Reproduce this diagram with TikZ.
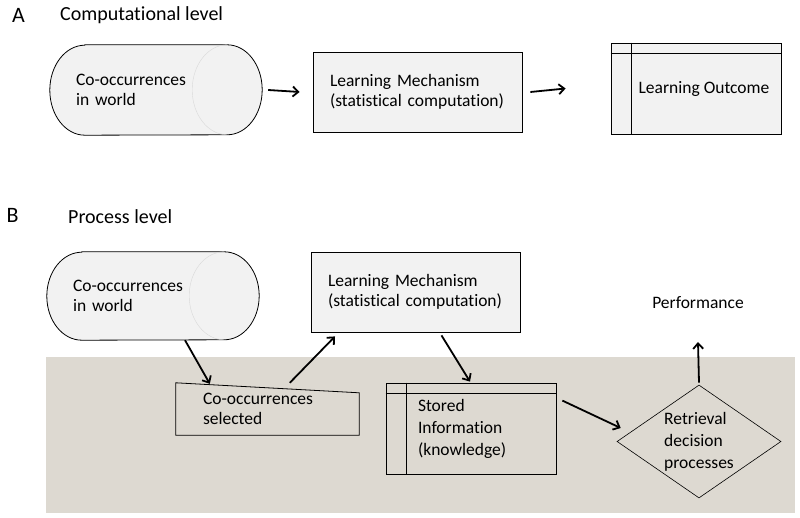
\documentclass[tikz,border=0pt]{standalone}
\usepackage{fontspec}
\setmainfont{Carlito}[Ligatures=NoCommon]
\usetikzlibrary{shapes.geometric,arrows.meta,backgrounds}
\definecolor{boxfill}{RGB}{242,242,242}
\definecolor{procbg}{RGB}{221,217,209}
\begin{document}
\begin{tikzpicture}[x=1pt,y=1pt,
  lbl/.style={font=\fontsize{17.5}{20}\selectfont, inner sep=0pt},
  head/.style={font=\fontsize{20}{24}\selectfont, inner sep=0pt, anchor=west},
  letter/.style={font=\fontsize{22}{26}\selectfont, inner sep=0pt},
  cylbox/.style={lbl, minimum width=212pt, minimum height=90pt, text width=160pt, align=left},
  cyledge/.style={draw=black, line width=0.8pt, fill=boxfill},
  procbox/.style={lbl, draw, line width=0.8pt, fill=boxfill, minimum width=209pt, minimum height=80pt, text width=175pt, align=left},
  storebox/.style={lbl, draw, line width=0.8pt, minimum width=170pt, minimum height=91pt, align=left},
  flow/.style={line width=1.8pt, -{Straight Barb[length=5.5pt,width=10pt]}},
]
\useasboundingbox (0,0) rectangle (800,-518);

% computational level
\node[letter] (A) at (18.5,-15) {A};
\node[head] (comp) at (60,-15) {Computational level};
\node[cylbox] (worldA) at (156,-90) {Co-occurrences\\in world};
\node[procbox] (lmA) at (417.5,-92) {Learning Mechanism\\(statistical computation)};
\node[storebox, fill=boxfill] (outA) at (696,-88.5) {\hspace*{16pt}Learning Outcome};
\draw[line width=0.8pt] ([yshift=-11pt]outA.north west) -- ([yshift=-11pt]outA.north east);
\draw[line width=0.8pt] ([xshift=21pt]outA.north west) -- ([xshift=21pt]outA.south west);

% process level
\node[letter] (B) at (12.5,-215) {B};
\node[head] (proc) at (68,-217) {Process level};
\node[cylbox, minimum height=88pt] (worldB) at (153,-296) {Co-occurrences\\in world};
\node[procbox] (lmB) at (415.5,-292) {Learning Mechanism\\(statistical computation)};
\node[lbl, minimum width=183pt, minimum height=52pt, text width=129pt, align=left] (sel) at (267.5,-409) {Co-occurrences\\selected};
\draw[line width=0.8pt] (sel.north west) -- ([yshift=-10pt]sel.north east) -- (sel.south east) -- (sel.south west) -- cycle;
\node[storebox, text width=106pt, font=\fontsize{17.5}{22}\selectfont] (stored) at (471,-428.5) {Stored\\Information\\(knowledge)};
\draw[line width=0.8pt] ([yshift=-11pt]stored.north west) -- ([yshift=-11pt]stored.north east);
\draw[line width=0.8pt] ([xshift=21pt]stored.north west) -- ([xshift=21pt]stored.south west);
\node[lbl, diamond, draw, line width=0.6pt, aspect=1.45, minimum width=164pt, minimum height=113pt, align=left, font=\fontsize{17.5}{22}\selectfont] (retr) at (699,-441.5) {Retrieval\\decision\\processes};
\node[lbl] (perf) at (698,-303) {Performance};
\coordinate (perfin) at (698,-342);

\begin{scope}[on background layer]
  \fill[procbg] (46,-357) rectangle (795,-513);
  \draw[cyledge] ([xshift=35pt]worldA.north west) -- ([xshift=-35pt]worldA.north east)
    arc[start angle=90, end angle=-90, x radius=35pt, y radius=45pt]
    -- ([xshift=35pt]worldA.south west)
    arc[start angle=270, end angle=90, x radius=35pt, y radius=45pt] -- cycle;
  \draw[black!15] ([xshift=-35pt]worldA.north east) arc[start angle=90, end angle=270, x radius=35pt, y radius=45pt];
  \draw[cyledge] ([xshift=35pt]worldB.north west) -- ([xshift=-35pt]worldB.north east)
    arc[start angle=90, end angle=-90, x radius=35pt, y radius=44pt]
    -- ([xshift=35pt]worldB.south west)
    arc[start angle=270, end angle=90, x radius=35pt, y radius=44pt] -- cycle;
  \draw[black!15] ([xshift=-35pt]worldB.north east) arc[start angle=90, end angle=270, x radius=35pt, y radius=44pt];
\end{scope}

\draw[flow] ([xshift=6pt]worldA.east) -- ([xshift=-13pt]lmA.west);
\draw[flow] ([xshift=8pt]lmA.east) -- ([xshift=-45pt]outA.west);
\draw[flow] ([xshift=32pt]worldB.south) -- ([xshift=34pt,yshift=-1pt]sel.north west);
\draw[flow] ([xshift=114pt]sel.north west) -- ([xshift=-80.5pt,yshift=-4pt]lmB.south);
\draw[flow] ([xshift=26pt,yshift=-3pt]lmB.south) -- ([xshift=-1pt,yshift=1pt]stored.north);
\draw[flow] ([xshift=6pt,yshift=-18pt]stored.north east) -- ([xshift=4pt,yshift=13.5pt]retr.west);
\draw[flow] ([yshift=2pt]retr.north) -- (perfin);
\end{tikzpicture}
\end{document}
